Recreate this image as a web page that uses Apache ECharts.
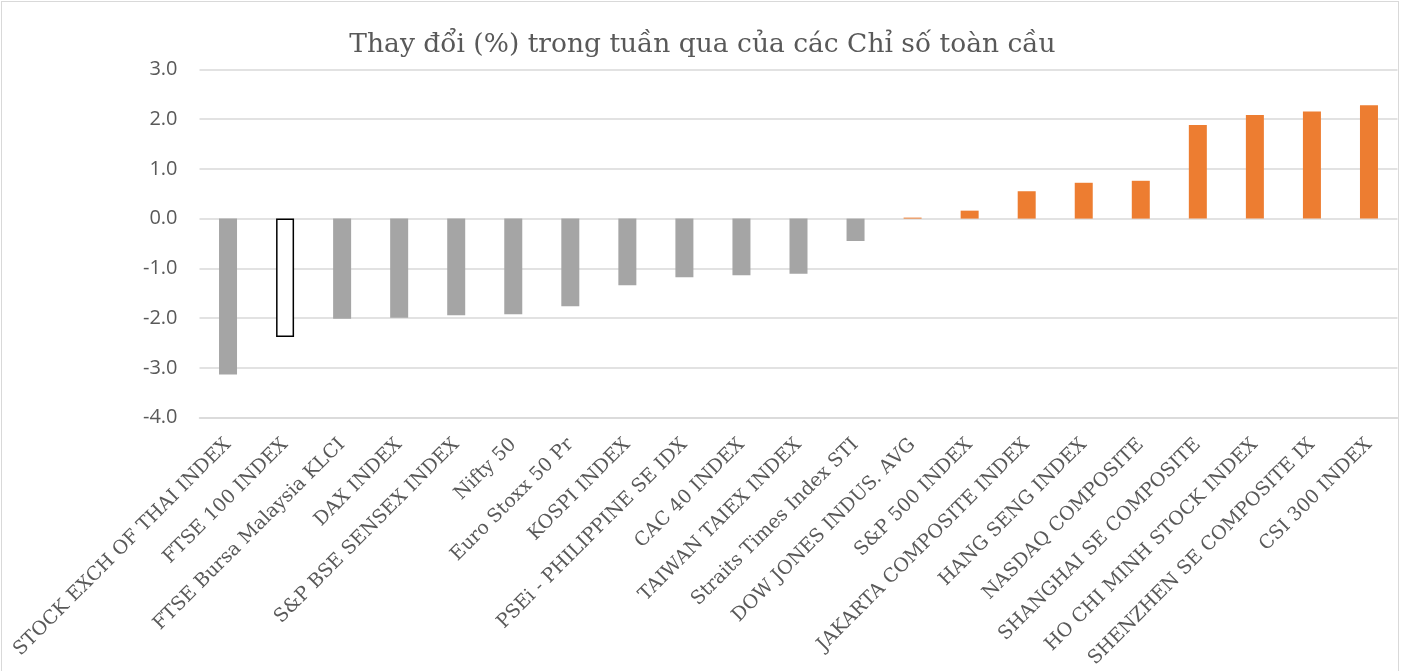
<!DOCTYPE html>
<html style="height: 100%">
<head>
<meta charset="utf-8">
<script src="https://cdn.jsdelivr.net/npm/echarts@6/dist/echarts.min.js"></script>
</head>
<body style="height: 100%; margin: 0; background: #fff">
<div id="frame" style="position:absolute; left:1px; top:1px; width:1398px; height:690px; border:1.5px solid #d9d9d9; box-sizing:border-box"></div>
<div id="container" style="position:absolute; left:0; top:0; width:1405px; height:671px"></div>
<script type="text/javascript">
var categories = ['STOCK EXCH OF THAI INDEX', 'FTSE 100 INDEX', 'FTSE Bursa Malaysia KLCI', 'DAX INDEX',
  'S&P BSE SENSEX INDEX', 'Nifty 50', 'Euro Stoxx 50 Pr', 'KOSPI INDEX', 'PSEi - PHILIPPINE SE IDX',
  'CAC 40 INDEX', 'TAIWAN TAIEX INDEX', 'Straits Times Index STI', 'DOW JONES INDUS. AVG',
  'S&P 500 INDEX', 'JAKARTA COMPOSITE INDEX', 'HANG SENG INDEX', 'NASDAQ COMPOSITE',
  'SHANGHAI SE COMPOSITE', 'HO CHI MINH STOCK INDEX', 'SHENZHEN SE COMPOSITE IX', 'CSI 300 INDEX'];
var changes = [-3.13, -2.38, -2.01, -1.99, -1.94, -1.92, -1.76, -1.34, -1.18, -1.14, -1.11, -0.45,
  0.02, 0.16, 0.55, 0.72, 0.76, 1.88, 2.08, 2.15, 2.28];
var highlight = 'FTSE 100 INDEX';

var dom = document.getElementById('container');
var myChart = echarts.init(dom);

var barData = changes.map(function(v, i) {
  if (categories[i] === highlight) {
    return { value: v, itemStyle: { color: '#ffffff', borderColor: '#000000', borderWidth: 1.5 } };
  }
  return { value: v, itemStyle: { color: v >= 0 ? '#ed7d31' : '#a5a5a5' } };
});

var option = {
  animation: false,
  title: {
    text: 'Thay đổi (%) trong tuần qua của các Chỉ số toàn cầu',
    left: 'center',
    top: 27,
    textStyle: { fontFamily: 'DejaVu Serif', fontWeight: 'normal', fontSize: 26.5, color: '#595959' }
  },
  grid: { left: 199.5, right: 7.5, top: 69.3, bottom: 253.3 },
  xAxis: {
    type: 'category',
    data: categories,
    axisLine: { onZero: false, lineStyle: { color: '#d9d9d9', width: 1.5 } },
    axisTick: { show: false },
    axisLabel: {
      interval: 0,
      rotate: 45,
      margin: 24,
      fontFamily: 'DejaVu Serif',
      fontSize: 19,
      color: '#595959'
    }
  },
  yAxis: {
    type: 'value',
    min: -4,
    max: 3,
    interval: 1,
    axisLine: { show: false },
    axisTick: { show: false },
    splitLine: { lineStyle: { color: '#d9d9d9', width: 1.5 } },
    axisLabel: {
      margin: 22,
      fontFamily: 'Open Sans',
      fontSize: 20,
      color: '#595959',
      formatter: function(v) { return v.toFixed(1); }
    }
  },
  series: [{
    type: 'bar',
    data: barData,
    barWidth: 18
  }]
};
myChart.setOption(option);
</script>
</body>
</html>
